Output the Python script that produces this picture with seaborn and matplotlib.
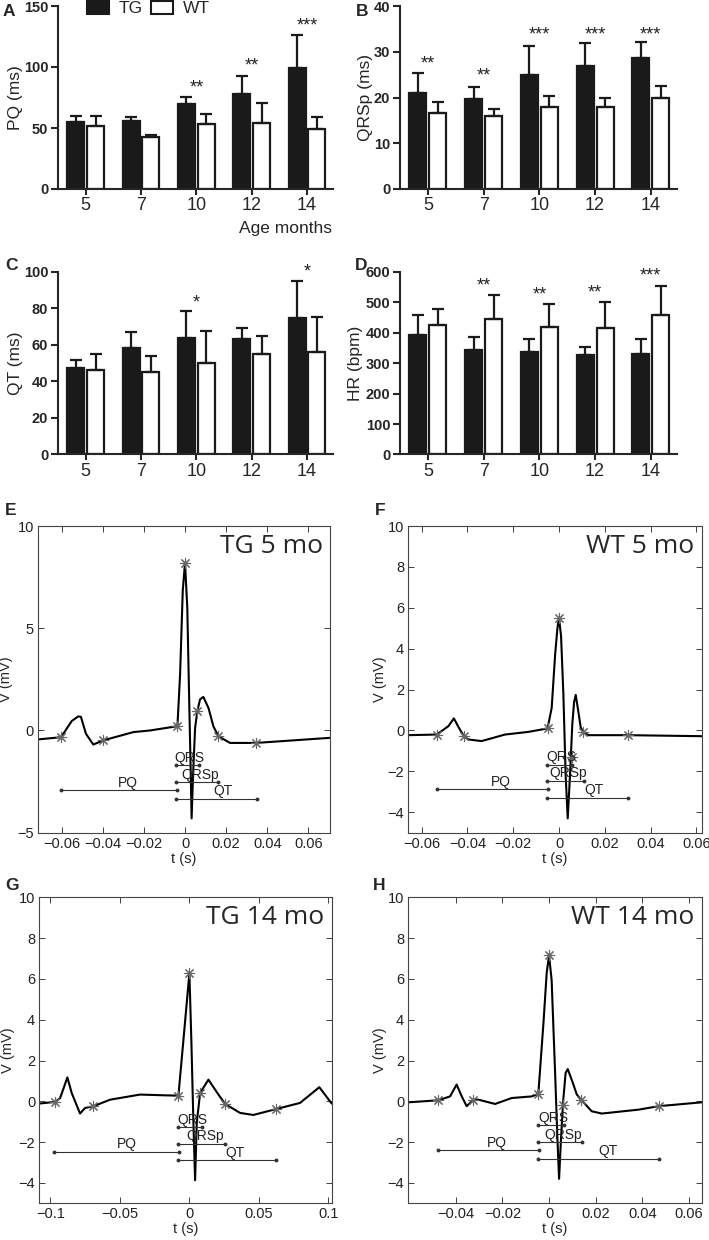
import numpy as np
import pandas as pd
import matplotlib
matplotlib.use("Agg")
import matplotlib.pyplot as plt
import seaborn as sns
from matplotlib.patches import Patch

# ---------------- bar chart data (mean and upper SD) ----------------
months = ["5", "7", "10", "12", "14"]
groups = ["TG", "WT"]

pq_tg = [55.0, 56.0, 70.0, 78.0, 99.0]
pq_tg_sd = [4.7, 3.0, 5.7, 14.7, 27.5]
pq_wt = [52.0, 43.0, 53.0, 54.5, 49.0]
pq_wt_sd = [7.7, 1.1, 8.7, 16.1, 10.4]
pq_stars = ["", "", "**", "**", "***"]
pq_star_y = [np.nan, np.nan, 85, 103, 136]

qrsp_tg = [20.9, 19.6, 24.9, 26.8, 28.6]
qrsp_tg_sd = [4.4, 2.8, 6.4, 5.1, 3.5]
qrsp_wt = [16.6, 16.0, 17.9, 18.0, 19.9]
qrsp_wt_sd = [2.4, 1.5, 2.5, 1.8, 2.6]
qrsp_stars = ["**", "**", "***", "***", "***"]
qrsp_star_y = [28.0, 25.3, 34.3, 34.3, 34.4]

qt_tg = [47.2, 58.4, 63.9, 63.3, 74.9]
qt_tg_sd = [4.7, 8.6, 14.6, 6.2, 19.9]
qt_wt = [46.5, 45.4, 50.1, 55.0, 55.9]
qt_wt_sd = [8.8, 8.5, 17.4, 10.1, 19.5]
qt_stars = ["", "", "*", "", "*"]
qt_star_y = [np.nan, np.nan, 85, np.nan, 101.5]

hr_tg = [394, 345, 336, 328, 331]
hr_tg_sd = [63, 40, 45, 27, 48]
hr_wt = [427, 444, 418, 416, 457]
hr_wt_sd = [52, 80, 77, 85, 98]
hr_stars = ["", "**", "**", "**", "***"]
hr_star_y = [np.nan, 563, 536, 542, 598]

# ---------------- ECG traces ----------------
e_t = [-0.0717, -0.0603, -0.0551, -0.0519, -0.0506, -0.0482, -0.0446, -0.0400, -0.0251, -0.0170,
       -0.0037, -0.0024, -0.0011, 0.0, 0.0011, 0.0021, 0.0028, 0.0032, 0.0039, 0.0049, 0.0060,
       0.0073, 0.0089, 0.0114, 0.0138, 0.0162, 0.0219, 0.0345, 0.0705]
e_v = [-0.44, -0.33, 0.46, 0.69, 0.66, -0.16, -0.69, -0.49, -0.08, 0.0,
       0.21, 2.75, 6.85, 8.2, 6.0, 1.1, -2.2, -4.3, -2.2, 0.13, 0.95,
       1.52, 1.64, 1.1, 0.2, -0.28, -0.61, -0.61, -0.36]
e_st_t = [-0.0603, -0.0400, -0.0037, 0.0, 0.0060, 0.0162, 0.0345]
e_st_v = [-0.33, -0.49, 0.21, 8.2, 0.95, -0.28, -0.61]

f_t = [-0.0658, -0.0534, -0.0483, -0.0459, -0.0437, -0.0415, -0.0396, -0.0338, -0.0236, -0.0134,
       -0.0050, -0.0032, -0.0017, -0.0007, 0.0, 0.0009, 0.0019, 0.0029, 0.0038, 0.0048, 0.0058,
       0.0066, 0.0073, 0.0082, 0.0095, 0.0106, 0.0128, 0.0300, 0.0623]
f_v = [-0.23, -0.20, 0.21, 0.59, 0.13, -0.28, -0.44, -0.52, -0.20, -0.07,
       0.10, 1.1, 3.7, 5.0, 5.5, 4.6, 1.8, -2.2, -4.3, -2.2, 0.3,
       1.4, 1.74, 1.1, 0.13, -0.07, -0.23, -0.23, -0.28]
f_st_t = [-0.0534, -0.0415, -0.0050, 0.0, 0.0055, 0.0106, 0.0300]
f_st_v = [-0.20, -0.28, 0.10, 5.5, -1.31, -0.07, -0.23]

g_t = [-0.108, -0.0966, -0.093, -0.0878, -0.0847, -0.0787, -0.0751, -0.069, -0.057, -0.0355,
       -0.0163, -0.0079, -0.0043, 0.0, 0.0014, 0.0029, 0.0041, 0.0053, 0.0077, 0.0137, 0.0209,
       0.0257, 0.0365, 0.046, 0.0624, 0.0796, 0.0935, 0.1024]
g_v = [-0.11, -0.03, 0.16, 1.17, 0.41, -0.6, -0.33, -0.24, 0.08, 0.33,
       0.29, 0.28, 3.0, 6.28, 3.0, -1.06, -3.87, -1.06, 0.41, 1.06, 0.33,
       -0.13, -0.57, -0.67, -0.38, -0.08, 0.69, -0.11]
g_st_t = [-0.0966, -0.069, -0.0079, 0.0, 0.0077, 0.0257, 0.0624]
g_st_v = [-0.03, -0.24, 0.28, 6.28, 0.41, -0.13, -0.38]

h_t = [-0.0603, -0.0474, -0.0424, -0.0396, -0.0374, -0.0353, -0.0324, -0.0303, -0.0231, -0.016,
       -0.0074, -0.0046, -0.0024, -0.001, 0.0, 0.0011, 0.0026, 0.0036, 0.0043, 0.0051, 0.0061,
       0.0071, 0.008, 0.0097, 0.0119, 0.0137, 0.0183, 0.0226, 0.0383, 0.0469, 0.0654]
h_v = [-0.05, 0.05, 0.24, 0.82, 0.24, -0.24, 0.08, 0.08, -0.13, 0.16,
       0.24, 0.36, 3.83, 6.3, 7.15, 5.95, 1.39, -1.88, -3.8, -1.88, 0.08,
       1.39, 1.58, 1.06, 0.33, 0.08, -0.49, -0.6, -0.41, -0.24, -0.05]
h_st_t = [-0.0474, -0.0324, -0.0046, 0.0, 0.0061, 0.0137, 0.0469]
h_st_v = [0.05, 0.08, 0.36, 7.15, -0.16, 0.08, -0.24]

# intervals: name, level (mV), start (s), end (s)
iv_names = ["QRS", "QRSp", "PQ", "QT"]
e_iv = [(-1.70, -0.0044, 0.0070), (-2.52, -0.0044, 0.0162), (-2.93, -0.0603, -0.0041), (-3.34, -0.0044, 0.0349)]
f_iv = [(-1.67, -0.0054, 0.0055), (-2.46, -0.0054, 0.0110), (-2.87, -0.0534, -0.0050), (-3.28, -0.0054, 0.0303)]
g_iv = [(-1.26, -0.0079, 0.0089), (-2.07, -0.0079, 0.0257), (-2.48, -0.0974, -0.0072), (-2.89, -0.0079, 0.0624)]
h_iv = [(-1.17, -0.0049, 0.0066), (-2.00, -0.0049, 0.0140), (-2.41, -0.0474, -0.0043), (-2.82, -0.0049, 0.0471)]

sns.set_style("ticks")
plt.rcParams["font.family"] = ["Liberation Sans", "DejaVu Sans"]

W, H = 709, 1240
fig = plt.figure(figsize=(W / 100, H / 100), dpi=100)


def px_axes(left, top, right, bottom):
    return fig.add_axes([left / W, 1 - bottom / H, (right - left) / W, (bottom - top) / H])


def bar_panel(ax, tg, tg_sd, wt, wt_sd, stars, star_y, ylabel, yticks, lab_x):
    df = pd.DataFrame({"month": months * 2,
                       "group": ["TG"] * 5 + ["WT"] * 5,
                       "value": list(tg) + list(wt)})
    sns.barplot(data=df, x="month", y="value", hue="group", order=months, hue_order=groups,
                palette={"TG": "#1a1a1a", "WT": "white"}, edgecolor="#1a1a1a", linewidth=1.6,
                width=0.72, gap=0.15, errorbar=None, legend=False, ax=ax)
    for cont, sd in zip(ax.containers, [tg_sd, wt_sd]):
        xs = [p.get_x() + p.get_width() / 2 for p in cont]
        hs = [p.get_height() for p in cont]
        ax.errorbar(xs, hs, yerr=[np.zeros(len(sd)), sd], fmt="none", ecolor="#1a1a1a",
                    elinewidth=1.6, capsize=4, capthick=1.6)
    for i, (s, y) in enumerate(zip(stars, star_y)):
        if s:
            ax.annotate(s, (i, y), xytext=(0, -5.5), textcoords="offset points",
                        ha="center", va="baseline", fontsize=13, color="#222",
                        annotation_clip=False)
    sns.despine(ax=ax)
    for sp in ["left", "bottom"]:
        ax.spines[sp].set_linewidth(1.5)
    ax.set_ylim(0, yticks[-1])
    ax.set_yticks(yticks)
    ax.set_xlim(-0.5, 4.47)
    ax.tick_params(axis="x", length=4, width=1.5, labelsize=13, pad=2)
    ax.tick_params(axis="y", length=5, width=1.5, labelsize=10.5, pad=2)
    for lbl in ax.get_yticklabels():
        lbl.set_fontweight("bold")
    ax.set_xlabel("")
    ax.set_ylabel(ylabel, fontsize=12.5)
    ax.yaxis.set_label_coords(lab_x, 0.5)


def fmt_tick(v):
    return f"{round(v, 6) + 0.0:g}".replace("-", "\u2212")


def ecg_panel(ax, t, v, st_t, st_v, ivs, title, xlim, xticks, yticks, lab_x):
    sns.lineplot(x=t, y=v, sort=False, estimator=None, color="black", linewidth=1.5, ax=ax)
    sns.scatterplot(x=st_t, y=st_v, marker=(8, 2, 0), s=55, color="#666666",
                    linewidth=0.8, ax=ax, zorder=3)
    for name, (lev, a, b) in zip(iv_names, ivs):
        ax.plot([a, b], [lev, lev], color="#333333", lw=0.8, marker="o", ms=1.8)
        ax.annotate(name, (a + 0.58 * (b - a), lev), xytext=(0, 0.3), textcoords="offset points",
                    ha="center", va="bottom", fontsize=10, color="#222")
    ax.text(0.975, 0.975, title, transform=ax.transAxes, ha="right", va="top",
            fontsize=19, family=["Open Sans", "DejaVu Sans"])
    ax.set_xlim(*xlim)
    ax.set_ylim(-5, 10)
    ax.set_xticks(xticks)
    ax.set_xticklabels([fmt_tick(x) for x in xticks])
    ax.set_yticks(yticks)
    ax.set_yticklabels([fmt_tick(y) for y in yticks])
    ax.tick_params(direction="in", top=True, right=True, length=4, width=0.6,
                   labelsize=10.5, pad=3, colors="#222")
    for sp in ax.spines.values():
        sp.set_linewidth(0.8)
        sp.set_color("#444")
    ax.set_xlabel("t (s)", fontsize=10.5)
    ax.set_ylabel("V (mV)", fontsize=10.5)
    ax.yaxis.set_label_coords(lab_x, 0.5)
    ax.xaxis.set_label_coords(0.5, -0.062)


axA = px_axes(58, 6, 333, 189)
axB = px_axes(400, 6, 677, 189)
axC = px_axes(58, 272, 333, 454.5)
axD = px_axes(400, 272, 677, 454.5)

bar_panel(axA, pq_tg, pq_tg_sd, pq_wt, pq_wt_sd, pq_stars, pq_star_y, "PQ (ms)", [0, 50, 100, 150], -0.127)
bar_panel(axB, qrsp_tg, qrsp_tg_sd, qrsp_wt, qrsp_wt_sd, qrsp_stars, qrsp_star_y, "QRSp (ms)", [0, 10, 20, 30, 40], -0.097)
bar_panel(axC, qt_tg, qt_tg_sd, qt_wt, qt_wt_sd, qt_stars, qt_star_y, "QT (ms)", [0, 20, 40, 60, 80, 100], -0.127)
bar_panel(axD, hr_tg, hr_tg_sd, hr_wt, hr_wt_sd, hr_stars, hr_star_y, "HR (bpm)", [0, 100, 200, 300, 400, 500, 600], -0.134)

fig.text(332 / W, 1 - 221 / H, "Age months", ha="right", va="top", fontsize=12.5)

handles = [Patch(facecolor="#1a1a1a", edgecolor="#1a1a1a", linewidth=1.5, label="TG"),
           Patch(facecolor="white", edgecolor="#1a1a1a", linewidth=1.5, label="WT")]
fig.legend(handles=handles, loc="center left", bbox_to_anchor=(87 / W, 1 - 8.5 / H), ncol=2,
           frameon=False, fontsize=12.5, handlelength=1.27, handleheight=0.75,
           handletextpad=0.55, columnspacing=0.5, borderpad=0, borderaxespad=0)

axE = px_axes(38, 526, 330, 832.7)
axF = px_axes(408.3, 526, 701.7, 832.7)
axG = px_axes(39.3, 897.3, 331.7, 1203.3)
axH = px_axes(408.3, 897.3, 701.7, 1203.3)

ecg_panel(axE, e_t, e_v, e_st_t, e_st_v, e_iv, "TG 5 mo", (-0.0715, 0.0705),
          [-0.06, -0.04, -0.02, 0, 0.02, 0.04, 0.06], [-5, 0, 5, 10], -0.086)
ecg_panel(axF, f_t, f_v, f_st_t, f_st_v, f_iv, "WT 5 mo", (-0.0658, 0.0623),
          [-0.06, -0.04, -0.02, 0, 0.02, 0.04, 0.06], [-4, -2, 0, 2, 4, 6, 8, 10], -0.073)
ecg_panel(axG, g_t, g_v, g_st_t, g_st_v, g_iv, "TG 14 mo", (-0.108, 0.1024),
          [-0.1, -0.05, 0, 0.05, 0.1], [-4, -2, 0, 2, 4, 6, 8, 10], -0.083)
ecg_panel(axH, h_t, h_v, h_st_t, h_st_v, h_iv, "WT 14 mo", (-0.0603, 0.0654),
          [-0.04, -0.02, 0, 0.02, 0.04, 0.06], [-4, -2, 0, 2, 4, 6, 8, 10], -0.073)

for letter, x, y in [("A", 3, 4), ("B", 356, 4), ("C", 5, 258), ("D", 355, 258),
                     ("E", 5, 503), ("F", 375, 503), ("G", 5, 878), ("H", 373, 878)]:
    fig.text(x / W, 1 - y / H, letter, ha="left", va="top", fontsize=12.5, fontweight="bold")

fig.savefig("out.png", dpi=100)
